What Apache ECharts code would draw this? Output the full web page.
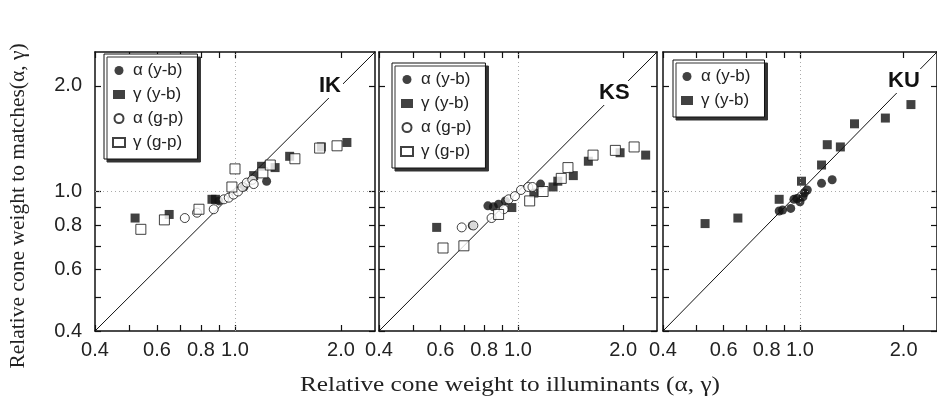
<!DOCTYPE html>
<html>
<head>
<meta charset="utf-8">
<script src="https://cdn.jsdelivr.net/npm/echarts@6/dist/echarts.min.js"></script>
<style>
  html, body { margin: 0; padding: 0; background: #fff; }
  #chart { width: 937px; height: 403px; }
</style>
</head>
<body>
<div id="chart"></div>
<script>
// axis range and ticks (log scale, shared by all panels)
const axisMin = 0.4;
const axisMax = 2.5;
const tickValues = [0.4, 0.5, 0.6, 0.7, 0.8, 0.9, 1.0, 2.0];
const labelValues = [0.4, 0.6, 0.8, 1.0, 2.0];

const panelNames = ['IK', 'KS', 'KU'];
const seriesNames = ['α (y-b)', 'γ (y-b)', 'α (g-p)', 'γ (g-p)'];

// [illuminant weight, match weight]
const ikAlphaYb = [[0.90, 0.94], [1.06, 1.03], [1.23, 1.07]];
const ikGammaYb = [[0.52, 0.84], [0.65, 0.86], [0.86, 0.95], [0.88, 0.95], [1.13, 1.11],
                   [1.19, 1.18], [1.30, 1.17], [1.43, 1.26], [1.76, 1.34], [2.08, 1.38]];
const ikAlphaGp = [[0.72, 0.84], [0.78, 0.87], [0.87, 0.89], [0.93, 0.95], [0.96, 0.96],
                   [0.99, 0.98], [1.02, 1.00], [1.05, 1.03], [1.08, 1.06], [1.12, 1.08], [1.13, 1.05]];
const ikGammaGp = [[0.54, 0.78], [0.63, 0.83], [0.79, 0.89], [0.98, 1.03], [1.00, 1.16],
                   [1.20, 1.13], [1.26, 1.19], [1.48, 1.24], [1.74, 1.33], [1.95, 1.35]];

const ksAlphaYb = [[0.74, 0.80], [0.82, 0.91], [0.85, 0.905], [0.88, 0.92], [0.92, 0.94], [1.16, 1.05]];
const ksGammaYb = [[0.585, 0.79], [0.96, 0.90], [1.11, 0.99], [1.26, 1.03], [1.30, 1.07],
                   [1.44, 1.11], [1.59, 1.22], [1.96, 1.29], [2.32, 1.27]];
const ksAlphaGp = [[0.69, 0.79], [0.745, 0.80], [0.84, 0.84], [0.91, 0.89], [0.94, 0.95],
                   [0.98, 0.97], [1.02, 1.01], [1.07, 1.03], [1.10, 1.03]];
const ksGammaGp = [[0.61, 0.69], [0.70, 0.70], [0.88, 0.86], [1.08, 0.94], [1.18, 1.00],
                   [1.33, 1.09], [1.39, 1.17], [1.64, 1.27], [1.90, 1.31], [2.15, 1.34]];

const kuAlphaYb = [[0.87, 0.88], [0.89, 0.885], [0.94, 0.895], [0.96, 0.95], [0.98, 0.955],
                   [1.00, 0.935], [1.02, 0.965], [1.03, 0.99], [1.05, 1.01], [1.155, 1.055], [1.24, 1.08]];
const kuGammaYb = [[0.53, 0.81], [0.66, 0.84], [0.87, 0.95], [1.01, 1.07], [1.155, 1.19],
                   [1.20, 1.36], [1.31, 1.34], [1.44, 1.56], [1.77, 1.62], [2.10, 1.77]];

const panelData = [
  [ikAlphaYb, ikGammaYb, ikAlphaGp, ikGammaGp],
  [ksAlphaYb, ksGammaYb, ksAlphaGp, ksGammaGp],
  [kuAlphaYb, kuGammaYb]
];

// layout
const grids = [
  { left: 95, top: 52, width: 280, height: 279 },
  { left: 379, top: 52, width: 278, height: 279 },
  { left: 663, top: 52, width: 277, height: 279 }
];
const legendPos = [
  { left: 104, top: 54 },
  { left: 392, top: 63 },
  { left: 673, top: 60 }
];
const panelLabelPos = [[333, 86], [613, 93], [902, 81]];

const lg = v => Math.log10(v);
const ink = '#111';

const markerStyles = [
  { symbol: 'circle', symbolSize: 9, itemStyle: { color: ink } },
  { symbol: 'rect', symbolSize: 9, itemStyle: { color: ink } },
  { symbol: 'circle', symbolSize: 9, itemStyle: { color: '#fff', borderColor: ink, borderWidth: 1 } },
  { symbol: 'rect', symbolSize: 10, itemStyle: { color: '#fff', borderColor: ink, borderWidth: 1 } }
];

function makeAxis(kind, gi, pos, showLabel) {
  return {
    type: 'value',
    gridIndex: gi,
    position: pos,
    min: lg(axisMin),
    max: lg(axisMax),
    axisLine: { show: true, onZero: false, lineStyle: { color: ink, width: 1.5 } },
    axisTick: { show: true, inside: true, length: 6, customValues: tickValues.map(lg),
                lineStyle: { color: ink, width: 1.2 } },
    axisLabel: {
      show: showLabel,
      customValues: labelValues.map(lg),
      formatter: v => Math.pow(10, v).toFixed(1),
      color: '#222',
      fontFamily: 'Liberation Sans',
      fontSize: 20,
      margin: kind === 'x' ? 9 : 13
    },
    splitLine: { show: false }
  };
}

const xAxis = [], yAxis = [], series = [], graphic = [];
grids.forEach((g, gi) => {
  xAxis.push(makeAxis('x', gi, 'bottom', true));
  xAxis.push(makeAxis('x', gi, 'top', false));
  yAxis.push(makeAxis('y', gi, 'left', gi === 0));
  yAxis.push(makeAxis('y', gi, 'right', false));

  // y = x line plus dotted guides at 1.0
  series.push({
    type: 'line',
    xAxisIndex: gi * 2,
    yAxisIndex: gi * 2,
    data: [[lg(axisMin), lg(axisMin)], [lg(axisMax), lg(axisMax)]],
    symbol: 'none',
    lineStyle: { color: ink, width: 1 },
    silent: true,
    z: 1,
    markLine: {
      silent: true,
      symbol: 'none',
      label: { show: false },
      lineStyle: { color: '#aaa', type: [1, 3], width: 1 },
      data: [{ xAxis: 0 }, { yAxis: 0 }]
    }
  });

  panelData[gi].forEach((pts, si) => {
    series.push(Object.assign({
      name: seriesNames[si],
      type: 'scatter',
      xAxisIndex: gi * 2,
      yAxisIndex: gi * 2,
      data: pts.map(p => [lg(p[0]), lg(p[1])]),
      z: 3 + si
    }, markerStyles[si]));
  });

  graphic.push({
    type: 'text',
    left: panelLabelPos[gi][0] - 16,
    top: panelLabelPos[gi][1] - 12,
    z: 100,
    style: {
      text: panelNames[gi],
      fill: ink,
      font: 'bold 22px "Liberation Sans"',
      backgroundColor: '#fff',
      padding: [1, 2]
    }
  });
});

const legend = legendPos.map((p, i) => ({
  data: seriesNames.slice(0, panelData[i].length),
  left: p.left,
  top: p.top,
  orient: 'vertical',
  itemWidth: 12,
  itemHeight: 9,
  itemGap: 7,
  padding: [8, 14, 8, 8],
  backgroundColor: '#fff',
  borderColor: ink,
  borderWidth: 1,
  shadowColor: '#333',
  shadowBlur: 0,
  shadowOffsetX: 3,
  shadowOffsetY: 3,
  selectedMode: false,
  textStyle: { fontFamily: 'Liberation Sans', fontSize: 17, color: '#222', padding: [0, 0, 0, 3] }
}));

graphic.push({
  type: 'text',
  x: 18, y: 206,
  rotation: Math.PI / 2,
  style: {
    text: 'Relative cone weight to matches(α, γ)',
    fill: '#222',
    font: '21.5px "Liberation Serif"',
    align: 'center',
    verticalAlign: 'middle'
  }
});
graphic.push({
  type: 'text',
  x: 510, y: 385,
  scaleX: 1.15,
  style: {
    text: 'Relative cone weight to illuminants (α, γ)',
    fill: '#222',
    font: '22px "Liberation Serif"',
    align: 'center',
    verticalAlign: 'middle'
  }
});

const chart = echarts.init(document.getElementById('chart'));
chart.setOption({
  animation: false,
  backgroundColor: '#fff',
  grid: grids,
  xAxis: xAxis,
  yAxis: yAxis,
  legend: legend,
  series: series,
  graphic: graphic
});
</script>
</body>
</html>
